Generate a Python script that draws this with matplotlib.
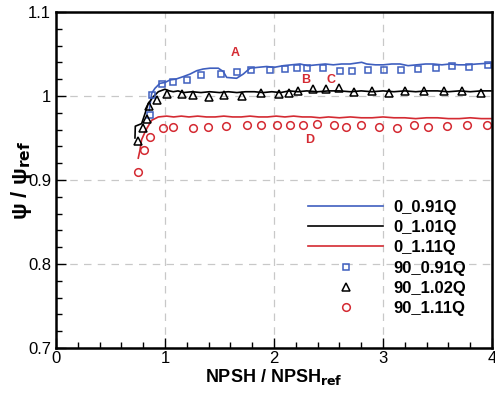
import matplotlib
matplotlib.use("Agg")
import matplotlib.pyplot as plt
from matplotlib.ticker import MultipleLocator, FormatStrFormatter

plt.rcParams['font.family'] = ['Liberation Sans', 'DejaVu Sans']

# CFD curves (0 deg)
x_091 = [0.856, 0.878, 0.908, 0.954, 1.00, 1.046, 1.10, 1.168, 1.23, 1.291, 1.35, 1.413,
         1.489, 1.535, 1.566, 1.657, 1.718, 1.780, 1.85, 1.933, 2.00, 2.086, 2.16, 2.239,
         2.31, 2.391, 2.47, 2.544, 2.62, 2.697, 2.804, 2.850, 2.93, 3.003, 3.08, 3.156,
         3.23, 3.309, 3.39, 3.461, 3.54, 3.615, 3.69, 3.768, 3.86, 3.982]
y_091 = [0.983, 1.003, 1.009, 1.015, 1.016, 1.019, 1.020, 1.023, 1.026, 1.030, 1.032, 1.033,
         1.033, 1.029, 1.022, 1.021, 1.026, 1.033, 1.034, 1.035, 1.034, 1.036, 1.037, 1.038,
         1.036, 1.037, 1.038, 1.037, 1.038, 1.038, 1.040, 1.038, 1.037, 1.037, 1.038, 1.038,
         1.036, 1.037, 1.038, 1.038, 1.037, 1.038, 1.037, 1.037, 1.038, 1.039]

x_101 = [0.725, 0.728, 0.786, 0.817, 0.847, 0.893, 0.939, 1.00, 1.04, 1.076, 1.12, 1.168,
         1.25, 1.33, 1.41, 1.50, 1.58, 1.66, 1.74, 1.82, 1.90, 1.98, 2.06, 2.14, 2.22,
         2.30, 2.40, 2.50, 2.60, 2.70, 2.80, 2.90, 3.00, 3.10, 3.20, 3.30, 3.40, 3.50,
         3.60, 3.70, 3.80, 3.90, 3.99]
y_101 = [0.950, 0.964, 0.967, 0.979, 0.991, 0.999, 1.005, 1.008, 1.006, 1.005, 1.006, 1.004,
         1.005, 1.004, 1.005, 1.004, 1.005, 1.004, 1.005, 1.005, 1.004, 1.005, 1.004, 1.006,
         1.005, 1.006, 1.005, 1.006, 1.006, 1.005, 1.006, 1.005, 1.006, 1.005, 1.006, 1.005,
         1.006, 1.006, 1.005, 1.006, 1.005, 1.006, 1.006]

x_111 = [0.755, 0.770, 0.786, 0.810, 0.832, 0.878, 0.939, 1.015, 1.08, 1.15, 1.22, 1.30,
         1.38, 1.46, 1.54, 1.62, 1.70, 1.78, 1.86, 1.94, 2.02, 2.10, 2.18, 2.26, 2.34,
         2.42, 2.50, 2.60, 2.70, 2.80, 2.90, 3.00, 3.10, 3.20, 3.30, 3.40, 3.50, 3.60,
         3.70, 3.80, 3.90, 3.99]
y_111 = [0.926, 0.935, 0.948, 0.955, 0.961, 0.971, 0.975, 0.976, 0.975, 0.976, 0.975, 0.976,
         0.975, 0.975, 0.976, 0.975, 0.975, 0.976, 0.975, 0.975, 0.976, 0.975, 0.976, 0.975,
         0.975, 0.974, 0.975, 0.974, 0.975, 0.974, 0.974, 0.975, 0.974, 0.974, 0.973, 0.974,
         0.974, 0.973, 0.973, 0.974, 0.973, 0.973]

# experiment (90 deg)
xs_091 = [0.862, 0.884, 0.970, 1.076, 1.199, 1.330, 1.511, 1.657, 1.789, 1.960, 2.101, 2.214,
          2.300, 2.446, 2.606, 2.719, 2.866, 3.012, 3.168, 3.321, 3.489, 3.636, 3.786, 3.960]
ys_091 = [0.977, 1.001, 1.014, 1.016, 1.019, 1.025, 1.026, 1.029, 1.031, 1.031, 1.032, 1.033,
          1.033, 1.033, 1.030, 1.030, 1.031, 1.031, 1.031, 1.032, 1.033, 1.036, 1.035, 1.037]

xs_102 = [0.755, 0.795, 0.832, 0.853, 0.930, 1.015, 1.159, 1.260, 1.407, 1.544, 1.703, 1.878,
          2.043, 2.135, 2.217, 2.361, 2.474, 2.593, 2.737, 2.896, 3.052, 3.202, 3.379, 3.557,
          3.728, 3.899]
ys_102 = [0.946, 0.962, 0.972, 0.988, 0.995, 1.002, 1.002, 1.001, 0.999, 1.001, 1.000, 1.003,
          1.002, 1.004, 1.006, 1.008, 1.008, 1.009, 1.005, 1.006, 1.004, 1.006, 1.006, 1.006,
          1.006, 1.003]

xs_111 = [0.749, 0.810, 0.862, 0.979, 1.076, 1.254, 1.397, 1.560, 1.749, 1.881, 2.031, 2.147,
          2.269, 2.391, 2.553, 2.661, 2.795, 2.960, 3.125, 3.287, 3.416, 3.584, 3.768, 3.951]
ys_111 = [0.909, 0.936, 0.951, 0.962, 0.963, 0.962, 0.963, 0.964, 0.965, 0.965, 0.965, 0.965,
          0.966, 0.967, 0.965, 0.963, 0.965, 0.963, 0.962, 0.965, 0.963, 0.964, 0.965, 0.965]

blue = '#3f5fbf'
red = '#d42a32'

fig = plt.figure(figsize=(4.95, 3.96), dpi=100)
ax = fig.add_axes([0.113, 0.121, 0.881, 0.849])

ax.grid(True, which='major', color='#c8c8c8', linestyle=(0, (6, 5)), linewidth=0.9)
ax.set_axisbelow(True)

ax.plot(x_091, y_091, color=blue, lw=1.2, label='0_0.91Q')
ax.plot(x_101, y_101, color='black', lw=1.2, label='0_1.01Q')
ax.plot(x_111, y_111, color=red, lw=1.2, label='0_1.11Q')
ax.plot(xs_091, ys_091, 's', mfc='none', mec=blue, ms=5, mew=1.1, label='90_0.91Q')
ax.plot(xs_102, ys_102, '^', mfc='none', mec='black', ms=5.5, mew=1.1, label='90_1.02Q')
ax.plot(xs_111, ys_111, 'o', mfc='none', mec=red, ms=5.5, mew=1.1, label='90_1.11Q')

for lab, xx, yy in [('A', 1.64, 1.051), ('B', 2.29, 1.019), ('C', 2.52, 1.019), ('D', 2.33, 0.948)]:
    ax.text(xx, yy, lab, color=red, fontsize=9, fontweight='bold', ha='center', va='center')

ax.set_xlim(0, 4)
ax.set_ylim(0.7, 1.1)
ax.xaxis.set_major_locator(MultipleLocator(1))
ax.xaxis.set_minor_locator(MultipleLocator(0.2))
ax.yaxis.set_major_locator(MultipleLocator(0.1))
ax.yaxis.set_minor_locator(MultipleLocator(0.02))
ax.yaxis.set_major_formatter(FormatStrFormatter('%g'))
ax.tick_params(which='both', direction='in', labelsize=12, top=False, right=False)
ax.tick_params(which='major', length=7, width=1)
ax.tick_params(which='minor', length=4, width=1)
ax.tick_params(axis='x', pad=2)
for sp in ax.spines.values():
    sp.set_linewidth(1.8)

ax.set_xlabel('NPSH / NPSH$_{\\mathbf{ref}}$', fontsize=13, fontweight='bold', labelpad=1)
ax.set_ylabel('ψ / ψ$_{\\mathbf{ref}}$', fontsize=16, fontweight='bold', labelpad=-4)

leg = ax.legend(loc='lower right', bbox_to_anchor=(0.975, 0.05), frameon=False,
                prop={'weight': 'bold', 'size': 12}, handlelength=4.5,
                labelspacing=0.32, handletextpad=0.6)

fig.savefig('out.png', dpi=100)
